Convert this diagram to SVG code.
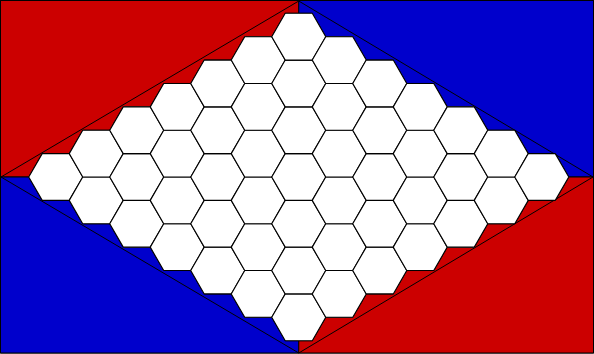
<svg xmlns="http://www.w3.org/2000/svg" xmlns:xlink="http://www.w3.org/1999/xlink" width="594" height="354" viewBox="0 0 594 354">
<style>
.red{fill:#cc0000;stroke:#000;stroke-width:1}
.blue{fill:#0000cc;stroke:#000;stroke-width:1}
.hex{fill:#fff;stroke:#000;stroke-width:1.1;stroke-linejoin:miter}
.dia{fill:none;stroke:#000;stroke-width:1}
</style>
<defs>
<polygon id="hx" points="-27,0 -13.5,-23.383 13.5,-23.383 27,0 13.5,23.383 -13.5,23.383"/>
</defs>
<rect x="0.5" y="0.5" width="593" height="352.5" fill="#fff" stroke="#000"/>
<g id="sides">
<polygon class="red" points="0.5,0.5 298.75,0.5 298.75,13.321 285.25,13.321 271.75,36.704 244.75,36.704 231.25,60.086 204.25,60.086 190.75,83.469 163.75,83.469 150.25,106.852 123.25,106.852 109.75,130.235 82.75,130.235 69.25,153.617 42.25,153.617 28.75,177 0.5,177"/>
<polygon class="blue" points="298.75,0.5 593.5,0.5 593.5,177 568.75,177 555.25,153.617 528.25,153.617 514.75,130.235 487.75,130.235 474.25,106.852 447.25,106.852 433.75,83.469 406.75,83.469 393.25,60.086 366.25,60.086 352.75,36.704 325.75,36.704 312.25,13.321 298.75,13.321"/>
<polygon class="blue" points="0.5,177 28.75,177 42.25,200.383 69.25,200.383 82.75,223.765 109.75,223.765 123.25,247.148 150.25,247.148 163.75,270.531 190.75,270.531 204.25,293.914 231.25,293.914 244.75,317.296 271.75,317.296 285.25,340.679 298.75,340.679 298.75,353 0.5,353"/>
<polygon class="red" points="298.75,340.679 312.25,340.679 325.75,317.296 352.75,317.296 366.25,293.914 393.25,293.914 406.75,270.531 433.75,270.531 447.25,247.148 474.25,247.148 487.75,223.765 514.75,223.765 528.25,200.383 555.25,200.383 568.75,177 593.5,177 593.5,353 298.75,353"/>
</g>
<g id="connectors">
<polygon class="dia" points="1,177 298.75,1 593,177 298.75,353"/>
</g>
<g id="hexes">
<g id="h0-0"><use xlink:href="#hx" class="hex" x="55.75" y="177"/></g>
<g id="h0-1"><use xlink:href="#hx" class="hex" x="96.25" y="200.383"/></g>
<g id="h0-2"><use xlink:href="#hx" class="hex" x="136.75" y="223.765"/></g>
<g id="h0-3"><use xlink:href="#hx" class="hex" x="177.25" y="247.148"/></g>
<g id="h0-4"><use xlink:href="#hx" class="hex" x="217.75" y="270.531"/></g>
<g id="h0-5"><use xlink:href="#hx" class="hex" x="258.25" y="293.914"/></g>
<g id="h0-6"><use xlink:href="#hx" class="hex" x="298.75" y="317.296"/></g>
<g id="h1-0"><use xlink:href="#hx" class="hex" x="96.25" y="153.617"/></g>
<g id="h1-1"><use xlink:href="#hx" class="hex" x="136.75" y="177"/></g>
<g id="h1-2"><use xlink:href="#hx" class="hex" x="177.25" y="200.383"/></g>
<g id="h1-3"><use xlink:href="#hx" class="hex" x="217.75" y="223.765"/></g>
<g id="h1-4"><use xlink:href="#hx" class="hex" x="258.25" y="247.148"/></g>
<g id="h1-5"><use xlink:href="#hx" class="hex" x="298.75" y="270.531"/></g>
<g id="h1-6"><use xlink:href="#hx" class="hex" x="339.25" y="293.914"/></g>
<g id="h2-0"><use xlink:href="#hx" class="hex" x="136.75" y="130.235"/></g>
<g id="h2-1"><use xlink:href="#hx" class="hex" x="177.25" y="153.617"/></g>
<g id="h2-2"><use xlink:href="#hx" class="hex" x="217.75" y="177"/></g>
<g id="h2-3"><use xlink:href="#hx" class="hex" x="258.25" y="200.383"/></g>
<g id="h2-4"><use xlink:href="#hx" class="hex" x="298.75" y="223.765"/></g>
<g id="h2-5"><use xlink:href="#hx" class="hex" x="339.25" y="247.148"/></g>
<g id="h2-6"><use xlink:href="#hx" class="hex" x="379.75" y="270.531"/></g>
<g id="h3-0"><use xlink:href="#hx" class="hex" x="177.25" y="106.852"/></g>
<g id="h3-1"><use xlink:href="#hx" class="hex" x="217.75" y="130.235"/></g>
<g id="h3-2"><use xlink:href="#hx" class="hex" x="258.25" y="153.617"/></g>
<g id="h3-3"><use xlink:href="#hx" class="hex" x="298.75" y="177"/></g>
<g id="h3-4"><use xlink:href="#hx" class="hex" x="339.25" y="200.383"/></g>
<g id="h3-5"><use xlink:href="#hx" class="hex" x="379.75" y="223.765"/></g>
<g id="h3-6"><use xlink:href="#hx" class="hex" x="420.25" y="247.148"/></g>
<g id="h4-0"><use xlink:href="#hx" class="hex" x="217.75" y="83.469"/></g>
<g id="h4-1"><use xlink:href="#hx" class="hex" x="258.25" y="106.852"/></g>
<g id="h4-2"><use xlink:href="#hx" class="hex" x="298.75" y="130.235"/></g>
<g id="h4-3"><use xlink:href="#hx" class="hex" x="339.25" y="153.617"/></g>
<g id="h4-4"><use xlink:href="#hx" class="hex" x="379.75" y="177"/></g>
<g id="h4-5"><use xlink:href="#hx" class="hex" x="420.25" y="200.383"/></g>
<g id="h4-6"><use xlink:href="#hx" class="hex" x="460.75" y="223.765"/></g>
<g id="h5-0"><use xlink:href="#hx" class="hex" x="258.25" y="60.086"/></g>
<g id="h5-1"><use xlink:href="#hx" class="hex" x="298.75" y="83.469"/></g>
<g id="h5-2"><use xlink:href="#hx" class="hex" x="339.25" y="106.852"/></g>
<g id="h5-3"><use xlink:href="#hx" class="hex" x="379.75" y="130.235"/></g>
<g id="h5-4"><use xlink:href="#hx" class="hex" x="420.25" y="153.617"/></g>
<g id="h5-5"><use xlink:href="#hx" class="hex" x="460.75" y="177"/></g>
<g id="h5-6"><use xlink:href="#hx" class="hex" x="501.25" y="200.383"/></g>
<g id="h6-0"><use xlink:href="#hx" class="hex" x="298.75" y="36.704"/></g>
<g id="h6-1"><use xlink:href="#hx" class="hex" x="339.25" y="60.086"/></g>
<g id="h6-2"><use xlink:href="#hx" class="hex" x="379.75" y="83.469"/></g>
<g id="h6-3"><use xlink:href="#hx" class="hex" x="420.25" y="106.852"/></g>
<g id="h6-4"><use xlink:href="#hx" class="hex" x="460.75" y="130.235"/></g>
<g id="h6-5"><use xlink:href="#hx" class="hex" x="501.25" y="153.617"/></g>
<g id="h6-6"><use xlink:href="#hx" class="hex" x="541.75" y="177"/></g>
</g>
</svg>
